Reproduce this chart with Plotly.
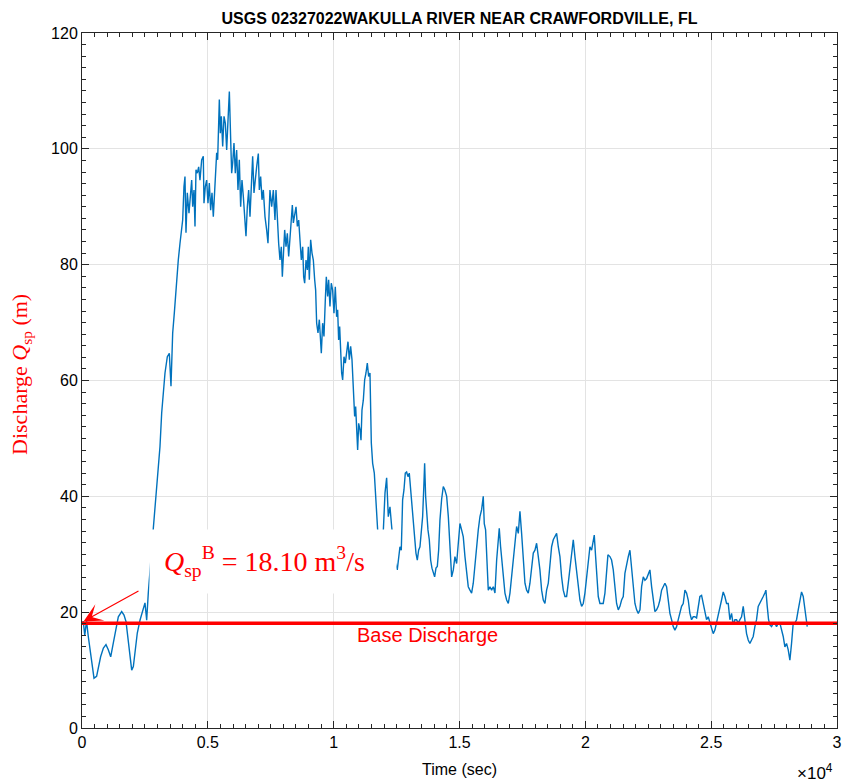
import plotly.graph_objects as go

# ---- data ----
t_a = [0, 50, 110, 180, 250, 385, 477, 580, 650, 740, 850, 953, 1045, 1140, 1245, 1350, 1443, 1577,
       1669, 1748, 1840, 1907, 1975, 2040, 2105, 2197, 2304, 2410, 2503, 2570, 2634]
q_a = [18.2, 18.4, 16.0, 18.5, 15.8, 11.7, 8.6, 8.9, 10.6, 12.3, 13.8, 14.4, 13.5, 12.3, 14.7, 17.5, 19.2, 20.1,
       19.5, 18.4, 15.2, 12.3, 10.0, 10.6, 13.5, 16.4, 18.6, 20.4, 21.6, 18.6, 23.3]

t_b = [2834, 2940, 3031, 3099, 3166, 3230, 3298, 3390, 3470, 3536, 3603, 3667, 3723, 3762, 3826, 3894, 3960,
       4000, 4052, 4092, 4132, 4184, 4251, 4318, 4358, 4398, 4450, 4490, 4529, 4582, 4636, 4688, 4755, 4820,
       4847, 4900, 4953, 5006, 5059, 5112, 5165, 5218, 5284, 5351, 5390, 5431, 5457, 5497, 5537, 5590, 5643,
       5696, 5749, 5802, 5855, 5908, 5947, 5987, 6039, 6092, 6145, 6198, 6251, 6304, 6357, 6410, 6463, 6516,
       6569, 6622, 6675, 6741, 6781, 6834, 6887, 6940, 7006, 7046, 7099, 7152, 7205, 7271, 7337, 7390]
q_b = [34.5, 40, 44, 48.6, 54.4, 57.8, 61.3, 64.1, 64.7, 59, 68.2, 71.6, 75.1, 78.6, 80.8, 83.7, 86,
       87.7, 93.5, 95.2, 85.5, 92.4, 88.9, 92.9, 94.6, 90, 92.9, 86.6, 96.4, 95.8, 96.9, 94.6, 98.1, 98.7,
       90.6, 93.5, 94.6, 90.6, 94.1, 89.4, 92.4, 88.3, 94.6, 99.3, 98.1, 106.2, 108.5, 102.7, 105.6, 100.4, 105.6,
       104.4, 99.8, 105, 109.9, 101.6, 95.8, 97.5, 101, 95.8, 99.8, 92.9, 98.1, 90, 94.6, 91.8, 87.7, 84.9,
       90, 92.9, 88.3, 96.9, 98.7, 92.4, 95.2, 96.9, 99.2, 92.9, 95.2, 91.2, 92.9, 88.3, 86, 83.7]

t_c = [7469, 7537, 7602, 7668, 7708, 7761, 7814, 7867, 7920, 7960, 8000, 8053, 8106, 8159, 8212, 8265, 8318,
       8358, 8398, 8451, 8504, 8557, 8610, 8661, 8716, 8769, 8808, 8848, 8901, 8954, 8993, 9033, 9086, 9139,
       9192, 9245, 9284, 9324, 9377, 9430, 9470, 9509, 9562, 9615, 9668, 9708, 9761, 9800, 9853, 9906, 9959,
       10012, 10065, 10118, 10158, 10198, 10238, 10278, 10317, 10357, 10410, 10463, 10516, 10569, 10622, 10675,
       10728, 10781, 10834, 10874, 10913, 10953, 10993, 11046, 11086, 11125, 11178, 11231, 11284, 11337, 11390,
       11443, 11496, 11549, 11615, 11668]
q_c = [92.9, 90, 92.9, 87.7, 92.9, 86.6, 83.7, 80.8, 83.1, 77.9, 81.4, 86, 83.1, 85.4, 81.4, 85, 88.9,
       90.3, 87.2, 88.9, 90, 86.6, 87.7, 84.3, 80.8, 83.1, 77.9, 76.8, 80.8, 79.1, 83.1, 77.4, 84.3, 82,
       80.8, 77.4, 75.6, 69.9, 68.2, 70.5, 67, 64.7, 69.9, 67.6, 73.9, 77.9, 74.5, 77.4, 72.8, 76.8, 75.6,
       71.6, 76.2, 71, 72.2, 67, 69.3, 63.6, 61.3, 60.1, 64.1, 63, 65.3, 66.7, 63.6, 65.9,
       63.6, 57.8, 53.8, 55.5, 52, 48, 52.6, 51.5, 49.7, 54.9, 56.6, 60.1, 61.3, 63, 60.7,
       61.3, 49.2, 45.7, 44, 40]

t_d = [11708, 11748, 11850, 11972, 12040, 12105, 12171, 12237, 12304, 12370, 12450, 12527, 12580, 12634,
       12687, 12740, 12793, 12846, 12899, 12952, 13005, 13058, 13111, 13164, 13217, 13270, 13323, 13376, 13429,
       13482, 13535, 13588, 13615, 13654, 13694, 13747, 13800, 13853, 13906, 13959, 14012, 14065, 14118, 14171]
q_d = [37.1, 34.2, 33.5, 34, 40.6, 43.2, 36.5, 38.2, 34.8, 32, 28.5, 27.3, 29.6, 31.3,
       30.7, 39.4, 41.1, 44, 44.2, 43.4, 44, 41.1, 38.8, 35.3, 33, 30.2, 29, 30.7, 31.3,
       34.2, 36.5, 42.3, 45.7, 40, 36.5, 34.2, 32.5, 29, 27.6, 26.7, 26.1, 27.6, 27.9, 30.7]

t_e = [14223, 14290, 14356, 14420, 14490, 14556, 14622, 14688, 14754, 14819, 14886, 14951, 15018, 15084,
       15150, 15217, 15283, 15348, 15415, 15481, 15547, 15614, 15680, 15746, 15813, 15879, 15944, 15984, 16037,
       16078, 16143, 16210, 16276, 16342, 16409, 16476, 16540, 16580, 16633, 16686, 16739, 16806, 16873, 16939,
       17005, 17072, 17138, 17203, 17270, 17336, 17402, 17468, 17535, 17601, 17667, 17733, 17799, 17866, 17932,
       17998, 18064, 18131, 18196, 18263, 18329, 18395, 18461, 18528, 18594, 18660, 18726, 18792, 18859, 18925,
       18991, 19057, 19123, 19190, 19256, 19322, 19388, 19455, 19521, 19587, 19653, 19720, 19786, 19852, 19918,
       19984, 20050, 20117, 20183, 20249, 20315, 20355, 20408, 20448, 20514]
q_e = [35.9, 39.5, 41.7, 41.1, 40, 36.5, 31.9, 26.1, 27.3, 29.6, 28.4, 31.9, 35.3, 34.2,
       33, 29.6, 26.7, 24.4, 23.8, 23.3, 25, 28.4, 31.3, 34.2, 36.5, 37.7, 40, 35.3, 34.2,
       29, 23.8, 24.4, 23.8, 24.4, 23.3, 29, 33.6, 34.5, 31.3, 29, 26.1, 23.3, 22.1, 21.5,
       23.3, 26.1, 29.6, 32.5, 34.8, 33.6, 37.4, 33.6, 29, 25, 23.8, 23.3, 25, 27.9, 30.2,
       30.7, 31.9, 29.6, 27.3, 23.8, 22.1, 21.5, 23.8, 25, 29, 31.3, 32.5, 33, 33.6, 31.3,
       29.6, 26.1, 23.8, 22.7, 22.7, 25, 27.9, 29.6, 32.5, 29.6, 27.3, 24.4, 22.1, 21, 21.5,
       23.3, 26.1, 29, 31.3, 30.7, 32.5, 33.3, 29.6, 26.1, 22.7]

t_f = [20580, 20711, 20779, 20845, 20898, 20977, 21043, 21110, 21176, 21242, 21309, 21375, 21441, 21507,
       21573, 21640, 21706, 21772, 21838, 21904, 21971, 22037, 22103, 22170, 22236, 22302, 22368, 22434, 22500,
       22566, 22633, 22699, 22765, 22831, 22897, 22964, 23030, 23096, 23162, 23228, 23295, 23361, 23427, 23493,
       23559, 23626, 23692, 23758, 23824, 23890, 23957, 24023, 24089, 24155, 24221, 24288, 24354, 24420, 24486,
       24552, 24619, 24685, 24751, 24817, 24883, 24950, 25016, 25082, 25148, 25214, 25281, 25347, 25413, 25479,
       25545, 25612, 25678, 25744, 25810, 25877, 25943, 26009, 26075, 26142, 26208, 26274, 26340, 26406, 26472,
       26539, 26605, 26671, 26737, 26803, 26869, 26936, 27002, 27068, 27134, 27175, 27228, 27281, 27334, 27400,
       27466, 27532, 27598, 27664, 27731, 27797, 27863, 27929, 27995, 28062, 28128, 28194, 28260, 28327, 28393,
       28459, 28525, 28591, 28658, 28724, 28790, 28817]
q_f = [21.5, 21.5, 23.3, 26.7, 29.9, 29.6, 29, 27.3, 24.4, 21.5, 20.4, 21, 22.1, 22.7,
       26.7, 28.4, 29.6, 30.7, 27.9, 24.4, 21.5, 20.4, 19.8, 20.4, 24.4, 26.1, 25.5, 25.8, 26.7,
       27.3, 24.4, 22.1, 20.1, 20.4, 21, 22.1, 23.8, 24.4, 25, 24.4, 22.1, 19.8, 18.7, 17.5,
       16.9, 17.5, 18.7, 19.8, 21, 21.5, 23.8, 23.3, 22.1, 19.8, 18.7, 19.2, 19.2, 19, 21,
       22.7, 22.9, 21.5, 20.4, 18.7, 19.2, 18.1, 17.5, 16.3, 16.9, 18.1, 19.8, 21, 22.1, 23.5,
       22.7, 21.5, 21.5, 18.7, 19.8, 17.8, 18.7, 18.7, 18.1, 18.7, 19.2, 21, 18.7, 16.3, 15.2,
       14.6, 15.2, 15.8, 17.5, 18.7, 21, 21.5, 22.1, 22.7, 23.3, 23.8, 21, 18.7, 17.8, 17.5,
       18.1, 18.1, 17.5, 18.1, 18.1, 16.9, 15.8, 14, 14.6, 13.5, 11.7, 14.6, 18.1, 18.1, 18.7,
       20.4, 22.1, 23.5, 22.7, 20.4, 18.1, 17.5]

time_s = t_a + t_b + t_c + t_d + t_e + t_f
discharge = q_a + q_b + q_c + q_d + q_e + q_f

base_q = 18.10
base_x = [0, 30000]

x_ticks = [0, 5000, 10000, 15000, 20000, 25000, 30000]
x_ticklabels = ["0", "0.5", "1", "1.5", "2", "2.5", "3"]
y_ticks = [0, 20, 40, 60, 80, 100, 120]

# ---- figure ----
AX = "#262626"
GRID = "#e3e3e3"
RED = "#ff0000"

fig = go.Figure()
fig.add_trace(go.Scatter(x=time_s, y=discharge, mode="lines",
                         line=dict(color="#0072BD", width=1.4), showlegend=False))
fig.add_trace(go.Scatter(x=base_x, y=[base_q, base_q], mode="lines",
                         line=dict(color=RED, width=3.5), showlegend=False))

axis_common = dict(showline=True, linecolor=AX, linewidth=1, mirror="allticks",
                   ticks="inside", ticklen=7, tickcolor=AX, tickwidth=1,
                   showgrid=True, gridcolor=GRID, gridwidth=1, zeroline=False, automargin=False,
                   tickfont=dict(family="Liberation Sans, Arial", size=16, color="#000000"))

fig.update_xaxes(range=[0, 30000], tickvals=x_ticks, ticktext=x_ticklabels,
                 minor=dict(dtick=500, ticks="inside", ticklen=4, tickcolor=AX, showgrid=False),
                 title=dict(text="Time (sec)", font=dict(family="Liberation Sans, Arial", size=16, color="#000000"),
                            standoff=13),
                 **axis_common)
fig.update_yaxes(range=[0, 120], tickvals=y_ticks,
                 minor=dict(dtick=2, ticks="inside", ticklen=4, tickcolor=AX, showgrid=False),
                 **axis_common)

fig.update_layout(
    width=849, height=783,
    margin=dict(l=82, r=12, t=33, b=55, autoexpand=False),
    plot_bgcolor="white", paper_bgcolor="white",
    title=dict(text="<b>USGS 02327022WAKULLA RIVER NEAR CRAWFORDVILLE, FL</b>",
               x=0.5, xref="paper", y=1 - 18 / 783, yref="container", yanchor="middle", xanchor="center",
               font=dict(family="Liberation Sans, Arial", size=16, color="#000000")),
)

# y axis label (red, serif)
fig.add_annotation(text="Discharge <i>Q</i><sub>sp</sub> (m)", xref="paper", yref="paper",
                   x=(21 - 82) / 755, y=0.508, xanchor="center", yanchor="middle", textangle=-90,
                   showarrow=False, font=dict(family="Liberation Serif, DejaVu Serif", size=22, color=RED))

# x10^4 exponent
fig.add_annotation(text="×10<sup>4</sup>", xref="paper", yref="paper",
                   x=(815 - 82) / 755, y=(728 - 772) / 695, xanchor="center", yanchor="middle",
                   showarrow=False, font=dict(family="Liberation Sans, Arial", size=17, color="#000000"))

# arrow pointing to base discharge at start
fig.add_annotation(x=60, y=18.4, ax=2304, ay=23.8, xref="x", yref="y", axref="x", ayref="y",
                   text="", showarrow=True, arrowhead=3, arrowsize=2.6, arrowwidth=1.2, arrowcolor=RED)

# base discharge value label with white background box
fig.add_annotation(text="&nbsp;&nbsp;<i>Q</i><sub>sp</sub><sup>B</sup> = 18.10 m<sup>3</sup>/s",
                   x=7588, y=28.8, xref="x", yref="y", xanchor="center", yanchor="middle",
                   width=246, height=63, align="left", valign="middle",
                   bgcolor="white", borderpad=0, showarrow=False,
                   font=dict(family="Liberation Serif, DejaVu Serif", size=28, color=RED))

fig.add_annotation(text="Base Discharge", x=13747, y=16.1, xref="x", yref="y",
                   xanchor="center", yanchor="middle", showarrow=False,
                   font=dict(family="Liberation Sans, Arial", size=20, color=RED))

fig.write_html("out.html")
